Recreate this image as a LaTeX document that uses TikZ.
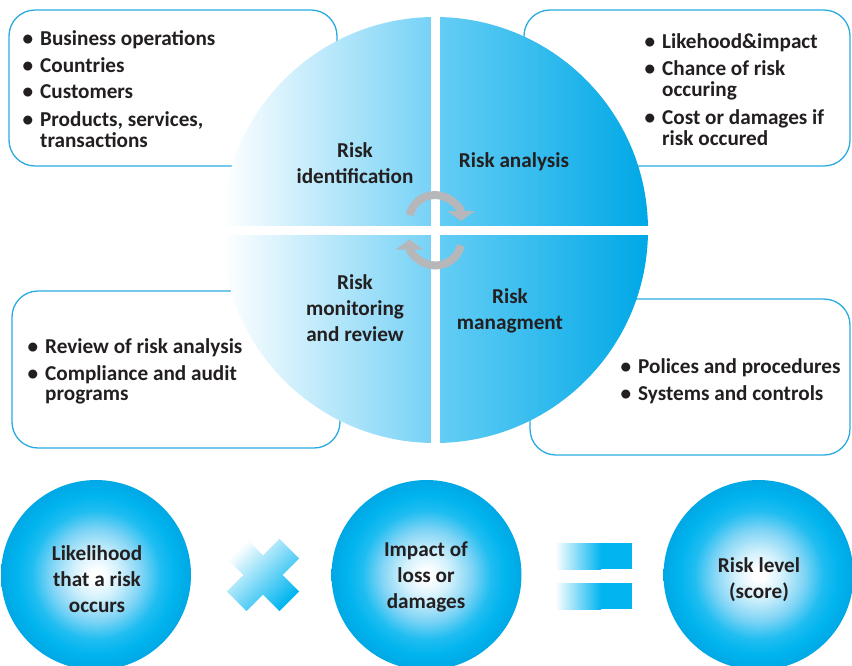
\documentclass[tikz,border=0pt]{standalone}
\usepackage{fontspec}
\setmainfont{Carlito}
\usetikzlibrary{arrows.meta}
\definecolor{txt}{HTML}{231F20}
\definecolor{boxline}{HTML}{29ABE2}
\definecolor{lq}{HTML}{74D1F6}
\definecolor{rqa}{HTML}{66CEF5}
\definecolor{rqb}{HTML}{00B9F1}
\definecolor{rqc}{HTML}{00A8E6}
\definecolor{arrowgray}{HTML}{B5B7BA}
\definecolor{barblue}{HTML}{00B5F0}
\definecolor{ballA}{HTML}{D4F1FC}
\definecolor{ballB}{HTML}{7FD4F5}
\definecolor{ballC}{HTML}{1FBDF1}
\definecolor{ballD}{HTML}{00B4EE}
\definecolor{ballE}{HTML}{00A8E5}
\pgfdeclareradialshading{ballblue}{\pgfpoint{0bp}{0bp}}{color(0bp)=(white); color(1.5bp)=(white); color(6bp)=(ballA); color(12bp)=(ballB); color(17bp)=(ballC); color(21bp)=(ballD); color(25bp)=(ballE); color(50bp)=(ballE)}
\newcommand\mybul{\llap{\textbullet\hspace{7pt}}}
\begin{document}
\begin{tikzpicture}[x=1pt,y=-1pt,
  infobox/.style={draw=boxline, line width=1.3pt, rounded corners=26pt, fill=white, anchor=north west, inner sep=0pt, outer sep=0pt},
  lst/.style={font=\bfseries\fontsize{21.2}{20}\selectfont, text=txt, inner sep=0pt, anchor=base west},
  lbl/.style={font=\bfseries\fontsize{21.2}{26.3}\selectfont, text=txt, inner sep=0pt, anchor=base},
  ball/.style={circle, minimum size=190pt, shade, shading=ballblue, inner sep=0pt, outer sep=0pt},
  cyc/.style={arrowgray, line width=8pt, -{Triangle[width=27pt,length=10pt]}}
]
\useasboundingbox (0,0) rectangle (852,665);
\fill[white] (0,0) rectangle (852,665);

% info boxes
\node[infobox, minimum width=328pt, minimum height=156pt] (boxTL) at (9,10) {};
\node[infobox, minimum width=326pt, minimum height=156pt] (boxTR) at (524,10) {};
\node[infobox, minimum width=328pt, minimum height=157pt] (boxBL) at (12,291) {};
\node[infobox, minimum width=320pt, minimum height=156pt] (boxBR) at (530,299) {};

% big circle
\coordinate (cc) at (435,230);
\begin{scope}
  \clip (cc) circle (213);
  \shade[left color=white, right color=lq] (222,17) rectangle (435,443);
  \shade[left color=rqa, middle color=rqb, right color=rqc] (435,17) rectangle (648,443);
  \fill[white] (430.5,10) rectangle (440,450);
  \fill[white] (215,225.5) rectangle (655,234.8);
\end{scope}

% cycle arrows
\draw[cyc] (435,221) ++(193:26) arc[start angle=193, end angle=360, radius=26];
\draw[cyc] (435.5,239.5) ++(13:26) arc[start angle=13, end angle=180, radius=26];

% quadrant labels
\node[lbl] (lid) at (355,157) {\begin{tabular}[t]{@{}c@{}}Risk\\identification\end{tabular}};
\node[lbl] (lan) at (514,167) {Risk analysis};
\node[lbl] (lmo) at (355,289) {\begin{tabular}[t]{@{}c@{}}Risk\\monitoring\\and review\end{tabular}};
\node[lbl] (lma) at (510,303) {\begin{tabular}[t]{@{}c@{}}Risk\\managment\end{tabular}};

% lists
\node[lst] (tTL) at (40,45) {\begin{tabular}[t]{@{}l@{}}\mybul Business operations\\[7pt]\mybul Countries\\[6pt]\mybul Customers\\[7pt]\mybul Products, services,\\transactions\end{tabular}};
\node[lst] (tTR) at (662,48) {\begin{tabular}[t]{@{}l@{}}\mybul Likehood\&impact\\[7pt]\mybul Chance of risk\\occuring\\[7pt]\mybul Cost or damages if\\risk occured\end{tabular}};
\node[lst] (tBL) at (45,353) {\begin{tabular}[t]{@{}l@{}}\mybul Review of risk analysis\\[7pt]\mybul Compliance and audit\\programs\end{tabular}};
\node[lst] (tBR) at (638,373) {\begin{tabular}[t]{@{}l@{}}\mybul Polices and procedures\\[7pt]\mybul Systems and controls\end{tabular}};

% bottom formula
\node[ball] (bL) at (96,575) {};
\node[ball] (bM) at (426.5,575) {};
\node[ball] (bR) at (758.5,575) {};
\node[lbl] (tL) at (97,560) {\begin{tabular}[t]{@{}c@{}}Likelihood\\that a risk\\occurs\end{tabular}};
\node[lbl] (tM) at (426,556) {\begin{tabular}[t]{@{}c@{}}Impact of\\loss or\\damages\end{tabular}};
\node[lbl] (tR) at (759,572) {\begin{tabular}[t]{@{}c@{}}Risk level\\(score)\end{tabular}};

% times sign
\begin{scope}[shift={(263,575)}]
  \shade[top color=white, bottom color=barblue, shading angle=45]
    (16.5,-36.1) -- (36.1,-16.5) -- (19.5,0) -- (36.1,16.5) -- (16.5,36.1) -- (0,19.5)
    -- (-16.5,36.1) -- (-36.1,16.5) -- (-19.5,0) -- (-36.1,-16.5) -- (-16.5,-36.1) -- (0,-19.5) -- cycle;
\end{scope}

% equals sign
\shade[left color=white, right color=barblue] (555,543) rectangle (601,569);
\fill[barblue] (600.5,543) rectangle (632,569);
\shade[left color=white, right color=barblue] (555,583) rectangle (601,609);
\fill[barblue] (600.5,583) rectangle (632,609);
\end{tikzpicture}
\end{document}
